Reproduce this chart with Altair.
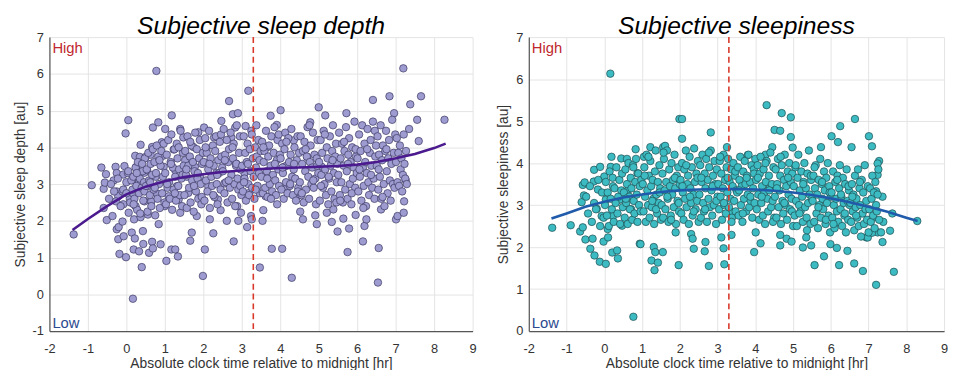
import altair as alt
import pandas as pd

FONT = "Liberation Sans"

# ---------------- Subjective sleep depth (left panel) ----------------
depth_outliers = [
    (-1.37, 1.63), (-0.9, 2.97), (-0.65, 3.45), (-0.53, 3.27), (-0.59, 2.87), (-0.56, 3.04),
    (-0.59, 2.35), (-0.51, 2.02), (-0.36, 2.13), (-0.28, 3.47), (-0.25, 3.3), (-0.33, 3.1),
    (-0.25, 2.8), (-0.21, 2.67), (-0.27, 2.53), (-0.25, 1.77), (-0.21, 1.5), (-0.18, 1.1),
    (-0.2, 1.83), (-0.05, 3.49), (-0.08, 3.26), (-0.1, 2.8), (-0.08, 2.45), (-0.1, 1.98),
    (-0.07, 1.58), (-0.01, 1.01), (0.05, 4.74), (-0.02, 4.38), (0.0, 3.05), (0.04, 3.3),
    (0.09, 2.6), (0.06, 2.22), (0.14, 1.68), (0.17, -0.12), (0.19, 1.22), (0.22, 1.52),
    (0.23, 3.77), (0.26, 3.47), (0.2, 3.11), (0.18, 2.74), (0.24, 2.4), (0.2, 2.04),
    (0.37, 4.07), (0.35, 3.74), (0.33, 3.06), (0.33, 1.17), (0.4, 0.74), (0.43, 1.72),
    (0.47, 2.53), (0.5, 3.74), (0.47, 3.31), (0.44, 1.37), (0.59, 1.13), (0.54, 3.38),
    (0.6, 2.94), (0.56, 2.17), (0.63, 3.8), (0.67, 4.01), (0.65, 2.53), (0.69, 4.54),
    (0.67, 1.43), (0.69, 1.25), (0.78, 6.08), (0.83, 4.68), (0.76, 3.2), (0.8, 2.74),
    (0.84, 1.91), (0.89, 1.36), (0.92, 4.14), (0.95, 3.77), (0.97, 3.47), (1.0, 2.4),
    (1.04, 0.91), (1.01, 4.5), (1.06, 3.02), (1.1, 2.67), (1.18, 4.87), (1.17, 1.22),
    (1.27, 1.22), (1.34, 1.03), (1.23, 3.94), (1.27, 3.38), (1.31, 2.94), (1.36, 2.58),
    (1.4, 2.22), (1.4, 4.5), (1.48, 4.27), (1.53, 3.65), (1.57, 3.2), (1.61, 2.76),
    (1.66, 1.46), (1.7, 1.68), (1.74, 4.01), (1.78, 3.47), (1.83, 2.13), (1.87, 4.41),
    (1.91, 3.2), (1.96, 2.58), (1.99, 0.5), (2.02, 4.54), (2.04, 1.22), (2.08, 3.93),
    (2.13, 2.94), (2.17, 2.04), (2.26, 1.66), (2.28, 4.27), (2.34, 3.3), (2.38, 2.58),
    (2.45, 2.29), (2.47, 4.72), (2.51, 3.74), (2.55, 3.02), (2.61, 2.0), (2.67, 5.26),
    (2.73, 4.27), (2.77, 4.9), (2.79, 1.44), (2.83, 4.54), (2.85, 3.56), (2.88, 2.4),
    (2.9, 4.93), (2.91, 2.0), (2.98, 2.22), (3.07, 3.3), (3.1, 4.58), (3.14, 1.83),
    (3.17, 5.54), (3.2, 2.76), (3.24, 2.13), (3.26, 2.04), (3.38, 4.6), (3.47, 0.73),
    (3.54, 2.0), (3.56, 2.29), (3.62, 2.67), (3.67, 4.01), (3.75, 4.86), (3.78, 1.24),
    (3.91, 4.61), (3.92, 2.45), (4.01, 5.01), (4.05, 1.24), (4.1, 3.47), (4.18, 2.94),
    (4.3, 0.45), (4.35, 4.19), (4.44, 2.67), (4.52, 2.25), (4.59, 2.04), (4.7, 3.74),
    (4.78, 4.68), (4.91, 2.15), (4.95, 1.91), (5.0, 5.09), (5.08, 3.47), (5.17, 4.87),
    (5.21, 2.22), (5.34, 1.97), (5.38, 2.31), (5.49, 1.71), (5.64, 2.06), (5.72, 4.93),
    (5.75, 1.15), (5.79, 1.79), (5.96, 2.16), (6.15, 1.44), (6.19, 1.86), (6.24, 2.04),
    (6.41, 5.29), (6.54, 0.32), (6.56, 1.26), (6.62, 2.31), (6.84, 5.39), (6.96, 4.93),
    (7.01, 2.04), (7.05, 2.13), (7.2, 6.15), (7.21, 2.22), (7.22, 2.53), (7.26, 3.11),
    (7.38, 5.17), (7.35, 4.5), (7.56, 4.75), (7.6, 4.17), (7.66, 5.39), (8.27, 4.75),
]

depth_core_early = [
    (-0.45, 2.6), (-0.4, 3.0), (-0.32, 2.8), (-0.22, 3.15), (-0.15, 2.4), (-0.08, 2.85),
    (0.0, 2.75), (0.05, 3.35), (0.1, 2.5), (0.13, 3.1),
    (0.16, 2.85), (0.18, 3.2), (0.21, 2.6), (0.24, 3.45), (0.26, 2.95), (0.28, 2.3),
    (0.3, 3.6), (0.33, 2.75), (0.35, 3.15), (0.37, 2.1), (0.4, 2.9), (0.42, 3.35),
    (0.44, 2.55), (0.46, 3.05), (0.48, 3.7), (0.19, 2.45), (0.27, 3.3), (0.36, 2.2),
    (0.41, 3.55), (0.47, 2.8),
    (0.51, 2.95), (0.53, 3.4), (0.55, 2.25), (0.57, 3.85), (0.59, 3.1), (0.61, 2.7),
    (0.63, 3.55), (0.65, 2.4), (0.67, 3.25), (0.69, 3.95), (0.71, 2.85), (0.73, 3.6),
    (0.75, 2.15), (0.77, 3.3), (0.79, 4.05), (0.81, 2.6), (0.83, 3.75), (0.85, 3.0),
    (0.87, 2.35), (0.89, 3.5), (0.91, 3.9), (0.93, 2.75), (0.95, 3.2), (0.97, 4.1),
    (0.99, 2.5), (0.62, 3.05), (0.74, 2.9), (0.86, 3.65),
    (1.01, 3.3), (1.03, 2.45), (1.05, 3.8), (1.07, 2.9), (1.09, 4.2), (1.11, 3.05),
    (1.13, 2.6), (1.15, 3.6), (1.17, 4.35), (1.19, 2.3), (1.21, 3.45), (1.23, 2.85),
    (1.25, 3.95), (1.27, 3.2), (1.29, 2.55), (1.31, 4.1), (1.33, 3.7), (1.35, 2.95),
    (1.37, 3.4), (1.39, 2.7), (1.41, 4.45), (1.43, 3.15), (1.45, 2.4), (1.47, 3.85),
    (1.49, 3.5), (1.06, 3.0), (1.16, 3.55), (1.26, 2.75), (1.36, 4.0), (1.46, 3.25),
    (1.51, 2.7), (1.53, 3.9), (1.55, 3.25), (1.57, 2.35), (1.59, 4.3), (1.61, 3.5),
    (1.63, 2.9), (1.65, 3.75), (1.67, 2.5), (1.69, 4.05), (1.71, 3.1), (1.73, 3.6),
    (1.75, 2.25), (1.77, 3.35), (1.79, 4.4), (1.81, 2.8), (1.83, 3.95), (1.85, 3.15),
    (1.87, 2.6), (1.89, 3.7), (1.91, 4.2), (1.93, 3.0), (1.95, 2.45), (1.97, 3.55),
    (1.99, 3.85), (1.56, 3.4), (1.66, 4.15), (1.76, 2.95), (1.86, 3.3), (1.96, 2.65),
    (2.01, 3.6), (2.03, 2.55), (2.05, 4.25), (2.07, 3.1), (2.09, 3.85), (2.11, 2.8),
    (2.13, 3.4), (2.15, 4.45), (2.17, 2.35), (2.19, 3.7), (2.21, 3.2), (2.23, 2.95),
    (2.25, 4.05), (2.27, 3.5), (2.29, 2.65), (2.31, 3.9), (2.33, 4.3), (2.35, 3.0),
    (2.37, 2.45), (2.39, 3.65), (2.41, 3.3), (2.43, 4.15), (2.45, 2.85), (2.47, 3.75),
    (2.49, 3.45), (2.06, 4.0), (2.16, 3.55), (2.26, 2.7), (2.36, 3.25), (2.46, 4.35),
    (2.51, 3.35), (2.53, 4.5), (2.55, 2.75), (2.57, 3.8), (2.59, 3.05), (2.61, 4.2),
    (2.63, 2.5), (2.65, 3.6), (2.67, 3.95), (2.69, 2.9), (2.71, 4.4), (2.73, 3.25),
    (2.75, 2.6), (2.77, 3.7), (2.79, 4.1), (2.81, 3.0), (2.83, 2.4), (2.85, 3.5),
    (2.87, 4.6), (2.89, 3.15), (2.91, 2.85), (2.93, 3.85), (2.95, 4.3), (2.97, 3.4),
    (2.99, 2.7), (2.56, 3.65), (2.66, 3.1), (2.76, 4.0), (2.86, 3.55), (2.96, 2.95),
    (3.01, 3.5), (3.03, 2.8), (3.05, 4.3), (3.07, 3.15), (3.09, 3.85), (3.11, 2.55),
    (3.13, 3.6), (3.15, 4.1), (3.17, 3.0), (3.19, 2.7), (3.21, 3.95), (3.23, 3.35),
    (3.25, 4.45), (3.27, 2.9), (3.29, 3.7), (3.31, 3.2), (3.33, 2.6), (3.35, 4.0),
    (3.37, 3.45), (3.39, 3.75), (3.41, 2.95), (3.43, 4.2), (3.45, 3.3), (3.47, 2.75),
    (3.49, 3.9), (3.06, 3.05), (3.16, 3.55), (3.26, 4.35), (3.36, 2.85), (3.46, 3.65),
]

depth_core_late = [
    (3.51, 3.2), (3.53, 4.15), (3.55, 2.75), (3.57, 3.6), (3.59, 3.9), (3.61, 2.9),
    (3.63, 4.45), (3.65, 3.35), (3.67, 2.65), (3.69, 3.75), (3.71, 4.05), (3.73, 3.0),
    (3.75, 3.5), (3.77, 4.3), (3.79, 2.8), (3.81, 3.25), (3.83, 3.85), (3.85, 4.55),
    (3.87, 3.1), (3.89, 2.7), (3.91, 3.65), (3.93, 4.2), (3.95, 3.4), (3.97, 2.95),
    (3.99, 3.8), (3.56, 4.0), (3.66, 3.15), (3.76, 2.6), (3.86, 3.55), (3.96, 4.35),
    (4.01, 3.7), (4.03, 2.85), (4.05, 4.1), (4.07, 3.3), (4.09, 2.6), (4.11, 3.95),
    (4.13, 4.4), (4.15, 3.05), (4.17, 3.5), (4.19, 2.75), (4.21, 4.25), (4.23, 3.6),
    (4.25, 2.95), (4.27, 3.8), (4.29, 4.5), (4.31, 3.2), (4.33, 2.7), (4.35, 3.4),
    (4.37, 4.0), (4.39, 3.15), (4.41, 2.55), (4.43, 3.65), (4.45, 4.3), (4.47, 2.9),
    (4.49, 3.85), (4.06, 3.45), (4.16, 4.15), (4.26, 3.0), (4.36, 3.55), (4.46, 2.8),
    (4.51, 3.05), (4.53, 4.3), (4.55, 2.7), (4.57, 3.55), (4.59, 3.9), (4.61, 2.5),
    (4.63, 4.15), (4.65, 3.35), (4.67, 2.85), (4.69, 3.75), (4.71, 4.55), (4.73, 3.2),
    (4.75, 2.6), (4.77, 3.6), (4.79, 4.05), (4.81, 3.0), (4.83, 3.45), (4.85, 4.4),
    (4.87, 2.9), (4.89, 3.8), (4.91, 3.15), (4.93, 2.45), (4.95, 3.7), (4.97, 4.2),
    (4.99, 3.3), (4.56, 2.75), (4.66, 3.95), (4.76, 4.6), (4.86, 3.1), (4.96, 3.5),
    (5.01, 3.6), (5.03, 2.55), (5.05, 4.2), (5.07, 3.25), (5.09, 3.85), (5.11, 2.9),
    (5.13, 4.45), (5.15, 3.0), (5.17, 3.4), (5.19, 2.7), (5.21, 4.0), (5.23, 3.7),
    (5.25, 2.45), (5.27, 3.15), (5.29, 4.3), (5.31, 3.5), (5.33, 2.8), (5.35, 3.9),
    (5.37, 4.6), (5.39, 3.3), (5.41, 2.6), (5.43, 3.75), (5.45, 4.1), (5.47, 3.05),
    (5.49, 3.55), (5.06, 2.95), (5.16, 4.35), (5.26, 3.2), (5.36, 3.65), (5.46, 2.5),
    (5.51, 3.25), (5.53, 4.4), (5.55, 2.7), (5.57, 3.7), (5.59, 3.05), (5.61, 4.1),
    (5.63, 2.5), (5.65, 3.5), (5.67, 3.9), (5.69, 2.85), (5.71, 4.55), (5.73, 3.35),
    (5.75, 2.6), (5.77, 3.8), (5.79, 4.25), (5.81, 3.0), (5.83, 3.6), (5.85, 2.45),
    (5.87, 4.0), (5.89, 3.15), (5.91, 3.45), (5.93, 4.7), (5.95, 2.9), (5.97, 3.75),
    (5.99, 3.3), (5.56, 2.55), (5.66, 4.15), (5.76, 3.55), (5.86, 2.75), (5.96, 3.95),
    (6.01, 3.7), (6.03, 2.8), (6.05, 4.35), (6.07, 3.2), (6.09, 3.9), (6.11, 2.55),
    (6.13, 4.6), (6.15, 3.45), (6.17, 2.95), (6.19, 4.1), (6.21, 3.6), (6.23, 2.4),
    (6.25, 3.3), (6.27, 4.5), (6.29, 3.05), (6.31, 2.7), (6.33, 3.85), (6.35, 4.2),
    (6.37, 3.5), (6.39, 2.9), (6.41, 4.7), (6.43, 3.15), (6.45, 2.6), (6.47, 3.75),
    (6.49, 4.05), (6.06, 3.4), (6.16, 2.35), (6.26, 3.95), (6.36, 3.25), (6.46, 4.45),
    (6.51, 3.5), (6.53, 4.3), (6.55, 2.85), (6.57, 3.8), (6.59, 3.2), (6.61, 4.6),
    (6.63, 2.6), (6.65, 3.65), (6.67, 4.05), (6.69, 3.0), (6.71, 2.4), (6.73, 3.9),
    (6.75, 4.45), (6.77, 3.35), (6.79, 2.75), (6.81, 3.7), (6.83, 4.2), (6.85, 3.1),
    (6.87, 2.55), (6.89, 3.55), (6.91, 4.75), (6.93, 3.0), (6.95, 3.85), (6.97, 2.9),
    (6.99, 4.35), (6.56, 3.4), (6.66, 2.65), (6.76, 3.95),
    (7.01, 3.6), (7.03, 4.25), (7.05, 3.05), (7.07, 3.85), (7.09, 2.95), (7.11, 4.05),
    (7.13, 3.4), (7.15, 3.7), (7.17, 2.8), (7.19, 3.25), (7.21, 4.35), (7.23, 3.55),
    (7.25, 3.15), (7.27, 3.9), (7.29, 3.0),
]

depth_fit_x = [-1.4, -1.0, -0.5, 0, 0.5, 1, 1.5, 2, 2.5, 3, 3.5, 4, 4.5, 5, 5.5, 6, 6.5, 7, 7.5, 8, 8.3]
depth_fit_y = [1.75, 2.05, 2.4, 2.72, 2.93, 3.08, 3.19, 3.27, 3.33, 3.37, 3.41, 3.44, 3.45, 3.47, 3.49,
               3.53, 3.6, 3.7, 3.82, 3.98, 4.1]

# ---------------- Subjective sleepiness (right panel) ----------------
sleep_outliers = [
    (-1.38, 2.46), (-0.89, 2.52), (-0.64, 2.37), (-0.6, 3.07), (-0.57, 3.48), (-0.52, 3.54),
    (-0.54, 3.23), (-0.57, 2.47), (-0.5, 2.18), (-0.37, 1.96), (-0.31, 2.2), (-0.28, 3.56),
    (-0.27, 3.84), (-0.26, 1.8), (-0.2, 2.91), (-0.17, 3.37), (-0.11, 3.91), (-0.12, 1.65),
    (-0.07, 2.74), (-0.02, 2.13), (0.04, 1.6), (0.0, 3.68), (0.04, 3.13), (0.09, 2.43),
    (0.1, 2.23), (0.16, 6.13), (0.21, 1.87), (0.19, 4.15), (0.17, 3.91), (0.23, 3.45),
    (0.23, 2.74), (0.34, 1.92), (0.36, 1.73), (0.4, 3.13), (0.45, 4.11), (0.47, 2.51),
    (0.6, 4.1), (0.64, 3.37), (0.71, 2.9), (0.77, 0.34), (0.83, 4.33), (0.88, 3.76),
    (0.94, 2.08), (0.96, 2.07), (1.05, 4.15), (1.22, 4.38), (1.25, 1.68), (1.33, 1.45),
    (1.31, 2.0), (1.35, 1.88), (1.42, 1.63), (1.55, 1.88), (1.56, 4.38), (1.61, 4.41),
    (1.89, 2.35), (1.97, 1.57), (1.99, 5.05), (2.06, 5.05), (2.06, 4.58), (2.3, 2.31),
    (2.34, 2.2), (2.37, 1.96), (2.68, 2.12), (2.66, 1.9), (2.77, 1.55), (2.82, 4.73),
    (3.1, 2.23), (3.16, 1.97), (3.18, 1.59), (3.25, 4.38), (3.37, 2.29), (3.35, 2.84),
    (3.8, 4.19), (3.97, 1.88), (4.01, 2.35), (4.14, 2.09), (4.27, 4.2), (4.3, 5.38),
    (4.45, 4.38), (4.51, 4.79), (4.66, 4.77), (4.7, 5.19), (4.66, 2.29), (4.66, 2.04),
    (4.83, 2.2), (4.94, 5.09), (4.94, 4.62), (4.96, 2.13), (4.99, 4.37), (5.26, 1.99),
    (5.35, 2.23), (5.48, 2.04), (5.57, 1.57), (5.74, 4.38), (5.82, 1.78), (5.99, 2.07),
    (6.02, 4.64), (6.19, 4.5), (6.22, 1.57), (6.16, 1.98), (6.25, 4.88), (6.44, 1.91),
    (6.55, 4.38), (6.62, 1.61), (6.64, 5.05), (6.85, 1.43), (7.01, 4.64), (7.09, 4.4),
    (7.2, 1.1), (7.37, 2.12), (7.57, 2.39), (7.63, 2.8), (7.67, 1.41), (8.29, 2.62),
    (7.37, 3.2), (7.28, 4.05), (7.24, 3.99), (7.24, 3.72), (7.2, 3.33), (7.39, 2.6),
    (7.24, 2.35), (7.11, 2.7), (7.33, 2.35), (6.94, 2.23), (6.98, 2.23), (7.09, 2.34),
]

sleep_core_early = [
    (-0.48, 3.2), (-0.43, 2.8), (-0.38, 3.45), (-0.33, 2.6), (-0.27, 3.05), (-0.22, 2.9),
    (-0.16, 3.6), (-0.11, 2.5), (-0.06, 3.3), (-0.02, 2.7),
    (0.02, 3.0), (0.04, 3.55), (0.07, 2.75), (0.09, 3.3), (0.12, 2.5), (0.14, 3.8),
    (0.17, 3.15), (0.2, 2.9), (0.22, 3.65), (0.25, 2.6), (0.27, 3.4), (0.3, 3.05),
    (0.32, 3.9), (0.35, 2.8), (0.37, 3.2), (0.4, 3.6), (0.42, 2.55), (0.45, 3.35),
    (0.47, 3.75), (0.49, 2.95),
    (0.52, 3.3), (0.54, 2.7), (0.56, 3.85), (0.58, 3.05), (0.6, 3.5), (0.62, 2.55),
    (0.64, 4.0), (0.66, 3.2), (0.68, 2.9), (0.7, 3.65), (0.72, 3.4), (0.74, 2.65),
    (0.76, 3.95), (0.78, 3.1), (0.8, 2.8), (0.82, 3.55), (0.84, 4.1), (0.86, 3.25),
    (0.88, 2.6), (0.9, 3.75), (0.92, 3.0), (0.94, 3.45), (0.96, 2.85), (0.98, 3.6),
    (0.57, 3.15), (0.77, 3.9),
    (1.02, 3.5), (1.04, 2.85), (1.06, 3.9), (1.08, 3.2), (1.1, 2.6), (1.12, 4.2),
    (1.14, 3.35), (1.16, 3.0), (1.18, 3.7), (1.2, 2.7), (1.22, 4.05), (1.24, 3.45),
    (1.26, 2.95), (1.28, 3.6), (1.3, 3.15), (1.32, 2.55), (1.34, 3.8), (1.36, 4.3),
    (1.38, 3.25), (1.4, 2.8), (1.42, 3.55), (1.44, 3.05), (1.46, 3.95), (1.48, 3.4),
    (1.5, 2.65), (1.07, 3.7), (1.17, 4.15), (1.27, 3.1), (1.37, 2.9), (1.47, 3.3),
    (1.52, 3.0), (1.54, 3.75), (1.56, 2.7), (1.58, 4.1), (1.6, 3.35), (1.62, 2.9),
    (1.64, 3.55), (1.66, 4.3), (1.68, 3.15), (1.7, 2.6), (1.72, 3.85), (1.74, 3.45),
    (1.76, 2.75), (1.78, 4.0), (1.8, 3.25), (1.82, 3.6), (1.84, 2.95), (1.86, 4.2),
    (1.88, 3.4), (1.9, 2.55), (1.92, 3.7), (1.94, 3.1), (1.96, 3.9), (1.98, 2.85),
    (2.0, 3.5), (1.57, 4.25), (1.67, 3.2), (1.77, 2.65), (1.87, 3.65), (1.97, 3.05),
    (2.02, 3.6), (2.04, 2.8), (2.06, 4.0), (2.08, 3.3), (2.1, 2.65), (2.12, 3.85),
    (2.14, 3.15), (2.16, 4.3), (2.18, 2.95), (2.2, 3.5), (2.22, 3.7), (2.24, 2.55),
    (2.26, 4.15), (2.28, 3.4), (2.3, 3.05), (2.32, 3.9), (2.34, 2.75), (2.36, 3.25),
    (2.38, 4.35), (2.4, 3.55), (2.42, 2.9), (2.44, 3.75), (2.46, 3.1), (2.48, 4.05),
    (2.5, 2.6), (2.07, 3.45), (2.17, 3.95), (2.27, 3.2), (2.37, 2.85), (2.47, 3.65),
    (2.52, 3.25), (2.54, 3.95), (2.56, 2.7), (2.58, 3.55), (2.6, 4.2), (2.62, 3.05),
    (2.64, 2.85), (2.66, 3.75), (2.68, 3.4), (2.7, 4.1), (2.72, 2.6), (2.74, 3.6),
    (2.76, 3.15), (2.78, 3.9), (2.8, 2.95), (2.82, 4.3), (2.84, 3.35), (2.86, 2.75),
    (2.88, 3.7), (2.9, 3.0), (2.92, 4.05), (2.94, 3.5), (2.96, 2.55), (2.98, 3.85),
    (3.0, 3.2), (2.57, 3.65), (2.67, 2.9), (2.77, 4.25), (2.87, 3.45), (2.97, 3.1),
    (3.02, 3.5), (3.04, 2.9), (3.06, 4.05), (3.08, 3.2), (3.1, 3.75), (3.12, 2.65),
    (3.14, 3.4), (3.16, 4.2), (3.18, 3.0), (3.2, 3.6), (3.22, 2.8), (3.24, 3.9),
    (3.26, 3.3), (3.28, 4.1), (3.3, 2.95), (3.32, 3.55), (3.34, 3.15), (3.36, 3.85),
    (3.38, 2.7), (3.4, 3.45), (3.42, 4.0), (3.44, 3.1), (3.46, 3.7), (3.48, 2.85),
    (3.5, 3.35), (3.07, 4.15), (3.17, 3.05), (3.27, 3.65), (3.37, 2.6), (3.47, 3.8),
]

sleep_core_late = [
    (3.52, 3.3), (3.54, 3.9), (3.56, 2.75), (3.58, 3.6), (3.6, 4.15), (3.62, 3.0),
    (3.64, 3.45), (3.66, 2.6), (3.68, 3.8), (3.7, 3.15), (3.72, 4.05), (3.74, 3.5),
    (3.76, 2.85), (3.78, 3.7), (3.8, 3.25), (3.82, 4.2), (3.84, 2.95), (3.86, 3.55),
    (3.88, 3.1), (3.9, 3.95), (3.92, 2.7), (3.94, 3.4), (3.96, 3.85), (3.98, 3.05),
    (4.0, 4.1), (3.57, 3.35), (3.67, 2.8), (3.77, 3.65), (3.87, 3.2), (3.97, 3.75),
    (4.02, 3.6), (4.04, 2.9), (4.06, 3.95), (4.08, 3.25), (4.1, 2.65), (4.12, 3.75),
    (4.14, 4.15), (4.16, 3.05), (4.18, 3.45), (4.2, 2.75), (4.22, 3.85), (4.24, 3.3),
    (4.26, 2.55), (4.28, 3.55), (4.3, 4.05), (4.32, 3.15), (4.34, 2.85), (4.36, 3.7),
    (4.38, 3.4), (4.4, 4.25), (4.42, 2.95), (4.44, 3.5), (4.46, 3.1), (4.48, 3.9),
    (4.5, 2.7), (4.07, 3.65), (4.17, 3.2), (4.27, 4.0), (4.37, 3.35), (4.47, 2.6),
    (4.52, 3.2), (4.54, 3.85), (4.56, 2.7), (4.58, 3.5), (4.6, 4.1), (4.62, 2.95),
    (4.64, 3.35), (4.66, 3.7), (4.68, 2.55), (4.7, 3.95), (4.72, 3.1), (4.74, 2.8),
    (4.76, 3.6), (4.78, 4.2), (4.8, 3.0), (4.82, 3.45), (4.84, 2.65), (4.86, 3.8),
    (4.88, 3.25), (4.9, 4.0), (4.92, 2.9), (4.94, 3.55), (4.96, 3.15), (4.98, 3.75),
    (5.0, 2.5), (4.57, 3.4), (4.67, 4.15), (4.77, 3.05), (4.87, 3.65), (4.97, 2.85),
    (5.02, 3.45), (5.04, 2.75), (5.06, 3.9), (5.08, 3.1), (5.1, 2.5), (5.12, 3.65),
    (5.14, 4.2), (5.16, 3.0), (5.18, 3.35), (5.2, 2.85), (5.22, 3.8), (5.24, 3.2),
    (5.26, 2.6), (5.28, 3.55), (5.3, 4.0), (5.32, 2.95), (5.34, 3.4), (5.36, 2.7),
    (5.38, 3.75), (5.4, 3.05), (5.42, 4.3), (5.44, 3.25), (5.46, 2.55), (5.48, 3.6),
    (5.5, 3.15), (5.07, 3.95), (5.17, 2.8), (5.27, 3.5), (5.37, 2.4), (5.47, 3.7),
    (5.52, 3.1), (5.54, 3.7), (5.56, 2.6), (5.58, 3.4), (5.6, 3.95), (5.62, 2.8),
    (5.64, 3.25), (5.66, 2.45), (5.68, 3.6), (5.7, 3.0), (5.72, 4.1), (5.74, 2.7),
    (5.76, 3.5), (5.78, 3.15), (5.8, 2.9), (5.82, 3.8), (5.84, 3.35), (5.86, 2.55),
    (5.88, 3.65), (5.9, 3.05), (5.92, 4.0), (5.94, 2.75), (5.96, 3.45), (5.98, 2.35),
    (6.0, 3.2), (5.57, 3.9), (5.67, 2.95), (5.77, 3.55), (5.87, 2.65), (5.97, 3.3),
    (6.02, 3.3), (6.04, 2.7), (6.06, 3.8), (6.08, 3.0), (6.1, 2.45), (6.12, 3.55),
    (6.14, 3.15), (6.16, 2.85), (6.18, 3.7), (6.2, 2.6), (6.22, 3.4), (6.24, 3.95),
    (6.26, 2.9), (6.28, 3.2), (6.3, 2.5), (6.32, 3.65), (6.34, 3.05), (6.36, 2.75),
    (6.38, 3.5), (6.4, 2.35), (6.42, 3.85), (6.44, 3.1), (6.46, 2.65), (6.48, 3.35),
    (6.5, 3.0), (6.07, 2.55), (6.17, 3.6), (6.27, 3.25), (6.37, 2.8), (6.47, 3.45),
    (6.52, 3.05), (6.54, 2.6), (6.56, 3.5), (6.58, 2.85), (6.6, 3.25), (6.62, 2.4),
    (6.64, 3.7), (6.66, 2.95), (6.68, 3.15), (6.7, 2.7), (6.72, 3.85), (6.74, 2.5),
    (6.76, 3.4), (6.78, 3.0), (6.8, 2.25), (6.82, 3.6), (6.84, 2.8), (6.86, 3.3),
    (6.88, 2.55), (6.9, 3.95), (6.92, 2.9), (6.94, 3.1), (6.96, 2.65), (6.98, 3.45),
    (7.0, 2.35), (6.57, 3.2), (6.67, 2.75), (6.77, 3.55),
    (7.02, 2.9), (7.04, 3.4), (7.06, 2.6), (7.08, 3.15), (7.1, 3.7), (7.12, 2.75),
    (7.14, 3.3), (7.16, 2.45), (7.18, 3.55), (7.2, 3.0), (7.22, 2.85), (7.24, 3.25),
    (7.26, 3.85), (7.28, 2.65),
]

sleep_fit_x = [-1.4, -1.0, -0.5, 0, 0.5, 1, 1.5, 2, 2.5, 3, 3.5, 4, 4.5, 5, 5.5, 6, 6.5, 7, 7.5, 8, 8.3]
sleep_fit_y = [2.68, 2.8, 2.96, 3.08, 3.18, 3.25, 3.31, 3.35, 3.37, 3.38, 3.38, 3.37, 3.34, 3.3, 3.24,
               3.16, 3.07, 2.96, 2.84, 2.7, 2.62]

x_ticks = [-2, -1, 0, 1, 2, 3, 4, 5, 6, 7, 8, 9]
midpoint_x = 3.3
x_title = "Absolute clock time relative to midnight [hr]"
PLAIN_LABEL = "datum.value + ''"


def panel(points, fit_x, fit_y, y_domain, y_title, title, fill, stroke, line_color, width):
    pts = pd.DataFrame(points, columns=["x", "y"])
    fit = pd.DataFrame({"x": fit_x, "y": fit_y})
    xs = alt.Scale(domain=[-2, 9], nice=False, zero=False)
    ys = alt.Scale(domain=y_domain, nice=False, zero=False)
    xa = alt.Axis(values=x_ticks, title=x_title, grid=True, tickSize=0, labelPadding=12,
                  titlePadding=1, labelOverlap=False, labelFlush=False, labelExpr=PLAIN_LABEL)
    ya = alt.Axis(values=list(range(y_domain[0], y_domain[1] + 1)), title=y_title, grid=True,
                  tickSize=0, labelPadding=6, titlePadding=5, labelOverlap=False,
                  labelFlush=False, labelExpr=PLAIN_LABEL)
    X = alt.X("x:Q", scale=xs, axis=xa)
    Y = alt.Y("y:Q", scale=ys, axis=ya)
    scatter = alt.Chart(pts).mark_circle(size=58, fill=fill, stroke=stroke, strokeWidth=0.7,
                                         opacity=1).encode(x=X, y=Y)
    line = alt.Chart(fit).mark_line(color=line_color, strokeWidth=2.6).encode(x=X, y=Y)
    rule = alt.Chart(pd.DataFrame({"x": [midpoint_x]})).mark_rule(
        color="#d8392b", strokeDash=[6, 4], strokeWidth=1.6).encode(x=X)
    high = alt.Chart(pd.DataFrame({"t": ["High"]})).mark_text(
        align="left", baseline="alphabetic", fontSize=15, font=FONT, color="#c0282d").encode(
        x=alt.value(3), y=alt.value(16), text="t:N")
    low = alt.Chart(pd.DataFrame({"t": ["Low"]})).mark_text(
        align="left", baseline="alphabetic", fontSize=15, font=FONT, color="#2c4a8f").encode(
        x=alt.value(3), y=alt.value(295), text="t:N")
    return alt.layer(scatter, line, rule, high, low).properties(
        width=width, height=298,
        title=alt.TitleParams(title, fontSize=25, fontStyle="italic", fontWeight="normal",
                              font=FONT, color="black", anchor="middle", offset=-8,
                              frame="group"))


left = panel(depth_outliers + depth_core_early + depth_core_late, depth_fit_x, depth_fit_y,
             [-1, 7], "Subjective sleep depth [au]", "Subjective sleep depth",
             "#9e9bd0", "#3b3862", "#4a1a8e", 429)
right = panel(sleep_outliers + sleep_core_early + sleep_core_late, sleep_fit_x, sleep_fit_y,
              [0, 7], "Subjective sleepiness [au]", "Subjective sleepiness",
              "#3cbcc2", "#1d4c50", "#1f5aab", 421)

chart = alt.hconcat(left, right, spacing=20).properties(
    padding={"left": 5, "top": 4, "right": 0, "bottom": 0}
).configure_view(stroke=None).configure_axis(
    labelFont=FONT, titleFont=FONT, labelFontSize=13, titleFontSize=14,
    labelColor="#333333", titleColor="#333333", titleFontWeight="normal",
    gridColor="#e4e4e4", gridWidth=1, domainColor="#555555", domainWidth=1.2,
    labelOverlap=False, labelFlush=False
)

chart.save("out.html", embed_options={"renderer": "svg", "actions": False})
